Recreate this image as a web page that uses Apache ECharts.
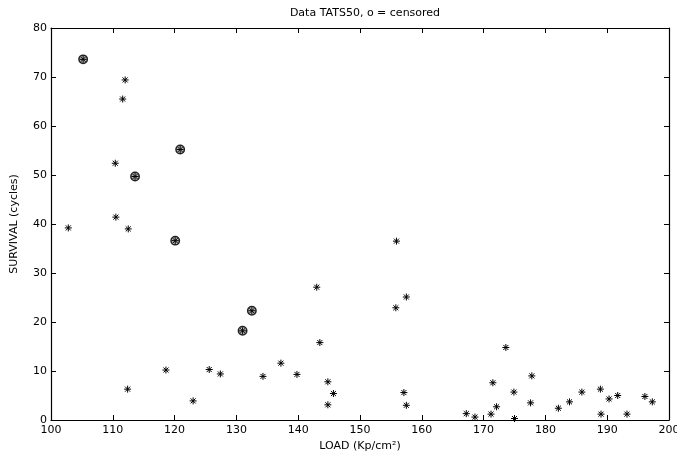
<!DOCTYPE html>
<html>
<head>
<meta charset="utf-8">
<script src="https://cdn.jsdelivr.net/npm/echarts@6/dist/echarts.min.js"></script>
<style>html,body{margin:0;padding:0;background:#fff}#c{width:677px;height:457px}</style>
</head>
<body>
<div id="c"></div>
<script>
const loadAll = [102.8,105.2,112.0,111.6,110.4,110.5,112.5,118.6,112.4,125.6,127.4,123.0,134.3,137.2,139.8,155.9,143.0,157.5,155.8,143.5,144.8,145.7,144.8,157.1,157.5,167.2,168.6,171.2,171.5,172.1,173.6,174.9,175.0,177.8,177.6,182.1,183.9,185.9,188.9,189.0,190.3,191.7,193.2,196.1,197.3,120.9,113.6,120.1,132.5,131.0];
const survAll = [39.2,73.6,69.4,65.5,52.4,41.4,39.0,10.2,6.3,10.3,9.4,3.9,8.9,11.6,9.3,36.5,27.1,25.1,22.9,15.8,7.8,5.4,3.1,5.6,3.0,1.3,0.6,1.2,7.6,2.7,14.8,5.7,0.3,9.0,3.5,2.4,3.7,5.7,6.3,1.2,4.3,5.0,1.2,4.8,3.7,55.2,49.7,36.6,22.3,18.2];
const loadCens = [105.2,120.9,113.6,120.1,132.5,131.0];
const survCens = [73.6,55.2,49.7,36.6,22.3,18.2];
const xTicks = [100,200,10];
const yTicks = [0,80,10];

const font = 'DejaVu Sans, Liberation Sans, Arial, sans-serif';
const chart = echarts.init(document.getElementById('c'), null, {renderer:'canvas'});

function star(params, api) {
  const p = api.coord([api.value(0), api.value(1)]);
  const r = 3.5, d = r * 0.72;
  const st = {stroke:'#000', lineWidth:1};
  const segs = [[-r,0,r,0],[0,-r,0,r],[-d,-d,d,d],[-d,d,d,-d]];
  return {type:'group', children: segs.map(s => ({type:'line', shape:{x1:p[0]+s[0],y1:p[1]+s[1],x2:p[0]+s[2],y2:p[1]+s[3]}, style:st}))};
}
function circ(params, api) {
  const p = api.coord([api.value(0), api.value(1)]);
  return {type:'circle', shape:{cx:p[0], cy:p[1], r:4.2}, style:{fill:'rgba(0,0,0,0.25)', stroke:'#222', lineWidth:1.5}};
}

const baseAxis = (min,max,interval) => ({
  type:'value', min, max, interval,
  axisLine:{show:true, onZero:false, lineStyle:{color:'#000', width:1.2}},
  axisTick:{show:true, inside:true, length:5, lineStyle:{color:'#000'}},
  splitLine:{show:false},
  axisLabel:{color:'#000', fontFamily:font, fontSize:11}
});

const xa0 = Object.assign(baseAxis(xTicks[0],xTicks[1],xTicks[2]), {position:'bottom', name:'LOAD (Kp/cm²)', nameLocation:'middle', nameGap:21, nameTextStyle:{color:'#000', fontFamily:font, fontSize:11}});
xa0.axisLabel.margin = 5;
const xa1 = Object.assign(baseAxis(xTicks[0],xTicks[1],xTicks[2]), {position:'top'});
xa1.axisLabel = {show:false};
const ya0 = Object.assign(baseAxis(yTicks[0],yTicks[1],yTicks[2]), {position:'left', name:'SURVIVAL (cycles)', nameLocation:'middle', nameGap:31, nameTextStyle:{color:'#000', fontFamily:font, fontSize:11}});
ya0.axisLabel.margin = 4;
const ya1 = Object.assign(baseAxis(yTicks[0],yTicks[1],yTicks[2]), {position:'right'});
ya1.axisLabel = {show:false};

chart.setOption({
  animation:false,
  backgroundColor:'#fff',
  title:{text:'Data TATS50, o = censored', left:360, textAlign:'center', top:3, textStyle:{fontFamily:font, fontSize:11, fontWeight:'normal', color:'#000'}},
  grid:{left:51, right:8, top:28, bottom:37, containLabel:false, outerBoundsMode:'none'},
  xAxis:[xa0, xa1],
  yAxis:[ya0, ya1],
  series:[
    {type:'custom', renderItem:star, data:loadAll.map((v,i)=>[v, survAll[i]]), encode:{x:0,y:1}, clip:false, z:3},
    {type:'custom', renderItem:circ, data:loadCens.map((v,i)=>[v, survCens[i]]), encode:{x:0,y:1}, clip:false, z:4}
  ]
});
</script>
</body>
</html>
